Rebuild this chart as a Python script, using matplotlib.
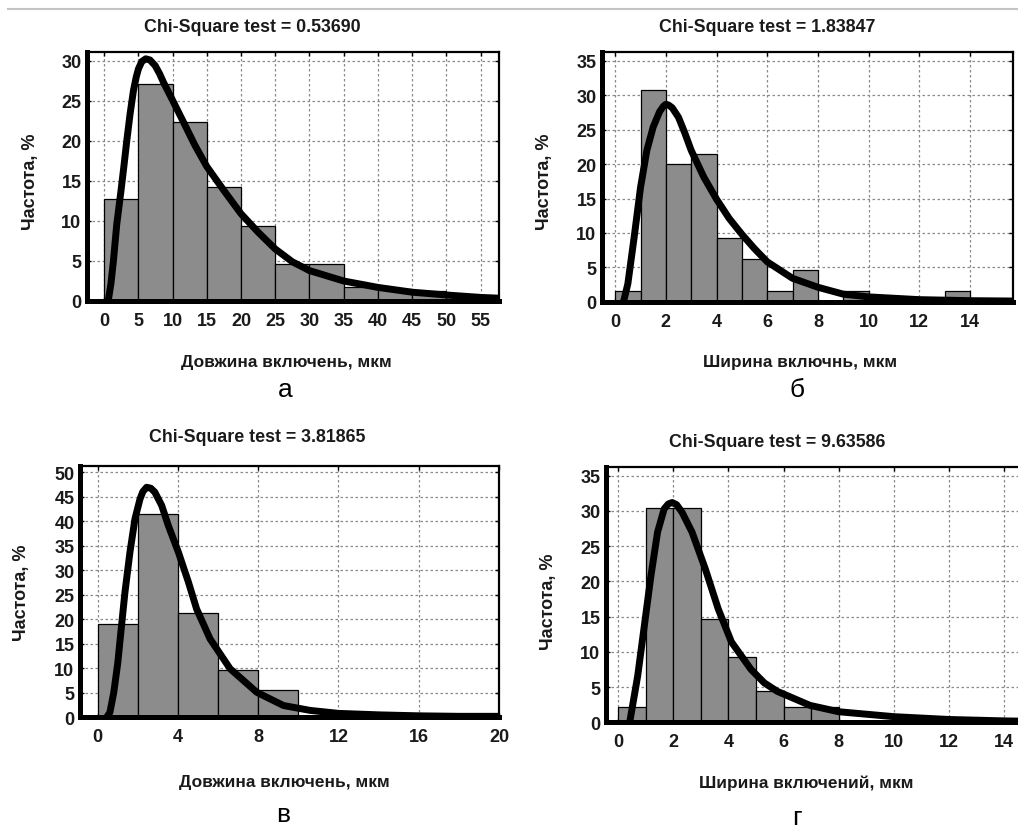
import matplotlib
matplotlib.use('Agg')
import matplotlib.pyplot as plt
from matplotlib.lines import Line2D

plt.rcParams['font.family'] = ['Liberation Sans', 'DejaVu Sans']

W, H = 1018, 829

# --- panel а: довжина включень ---
a_edges = [0, 5, 10, 15, 20, 25, 30, 35, 40, 45, 50]
a_freq = [12.7, 27.1, 22.3, 14.3, 9.4, 4.6, 4.6, 1.8, 1.5, 1.3, 0.6]
a_fit_x = [0.6, 1.0, 1.36, 1.85, 2.5, 2.9, 3.31, 3.8, 4.29, 4.7, 5.02, 5.5, 6.09, 6.7, 7.46,
           8.1, 8.68, 9.9, 11.36, 13.3, 15, 17.5, 20, 22.5, 25, 27.5, 30, 35, 40, 45, 50,
           55, 57.7]
a_fit_y = [0, 2.2, 5.0, 9.6, 14.0, 16.9, 20.0, 23.4, 26.3, 28.0, 29.0, 29.9, 30.25, 30.1,
           29.4, 28.4, 27.3, 25.25, 22.75, 19.4, 16.8, 13.8, 10.9, 8.6, 6.5, 4.9, 3.8, 2.5,
           1.7, 1.1, 0.75, 0.45, 0.35]

# --- panel б: ширина включень ---
b_edges = [0, 1, 2, 3, 4, 5, 6, 7, 8, 9, 10, 11, 12, 13]
b_freq = [1.5, 30.8, 20.0, 21.5, 9.2, 6.2, 1.5, 4.6, 0, 1.5, 0, 0, 0, 1.5]
b_fit_x = [0.33, 0.5, 0.75, 1.0, 1.25, 1.5, 1.75, 1.9, 2.0, 2.1, 2.25, 2.5, 2.75, 3.0, 3.5,
           4.0, 4.5, 5.0, 5.5, 6.0, 7.0, 8.0, 9.0, 10.0, 12.0, 14.0, 15.7]
b_fit_y = [0, 2.6, 9.4, 16.6, 22.0, 25.4, 27.6, 28.4, 28.7, 28.6, 28.2, 26.8, 24.5, 22.0,
           18.1, 14.9, 12.1, 9.8, 7.7, 5.8, 3.4, 2.1, 1.1, 0.7, 0.3, 0.15, 0.1]

# --- panel в: довжина включень ---
c_edges = [0, 2, 4, 6, 8]
c_freq = [19.1, 41.5, 21.2, 9.6, 5.6]
c_fit_x = [0.45, 0.61, 0.8, 1.0, 1.16, 1.36, 1.61, 1.86, 2.11, 2.25, 2.44, 2.65, 2.85,
           3.19, 3.52, 4.02, 4.52, 4.93, 5.6, 6.6, 7.93, 9.26, 10.6, 12, 14, 16, 18, 20]
c_fit_y = [0, 1.0, 5.0, 11.0, 17.5, 25.5, 33.7, 40.5, 44.5, 46.0, 46.9, 46.7, 45.9,
           43.2, 39.1, 33.7, 27.6, 22.1, 16.0, 9.9, 5.1, 2.4, 1.4, 0.8, 0.5, 0.3, 0.2, 0.2]

# --- panel г: ширина включень ---
d_edges = [0, 1, 2, 3, 4, 5, 6, 7]
d_freq = [2.2, 30.4, 30.4, 14.6, 9.3, 4.5, 2.2, 2.2]
d_fit_x = [0.42, 0.71, 0.95, 1.19, 1.43, 1.67, 1.82, 1.96, 2.12, 2.32, 2.68, 3.16, 3.63,
           4.11, 4.82, 5.3, 5.77, 6.96, 8.0, 10.0, 12.0, 14.0, 15.7]
d_fit_y = [0, 6.6, 13.7, 20.8, 27.0, 30.3, 31.0, 31.2, 30.9, 29.8, 27.0, 21.8, 16.1,
           11.4, 7.5, 5.6, 4.4, 2.4, 1.5, 0.8, 0.4, 0.2, 0.1]

panels = [
    dict(edges=a_edges, freq=a_freq, w=5, fx=a_fit_x, fy=a_fit_y,
         box=(87, 53, 499, 302), xlim=(-2.5, 57.7), ylim=(0, 31.1),
         xticks=range(0, 56, 5), yticks=range(0, 31, 5),
         title='Chi-Square test = 0.53690', xlabel='Довжина включень, мкм', letter='а',
         tpos=(252, 28), ylpos=(30, 182), xlpos=(286, 362), lpos=(285, 390)),
    dict(edges=b_edges, freq=b_freq, w=1, fx=b_fit_x, fy=b_fit_y,
         box=(602, 53, 1013, 302.7), xlim=(-0.52, 15.7), ylim=(0, 36.3),
         xticks=range(0, 15, 2), yticks=range(0, 36, 5),
         title='Chi-Square test = 1.83847', xlabel='Ширина включнь, мкм', letter='б',
         tpos=(767, 28), ylpos=(545, 182), xlpos=(800, 362), lpos=(797, 390)),
    dict(edges=c_edges, freq=c_freq, w=2, fx=c_fit_x, fy=c_fit_y,
         box=(80, 466.7, 499, 718.3), xlim=(-0.88, 20), ylim=(0, 51.3),
         xticks=range(0, 21, 4), yticks=range(0, 51, 5),
         title='Chi-Square test = 3.81865', xlabel='Довжина включень, мкм', letter='в',
         tpos=(257, 438), ylpos=(22, 593), xlpos=(284, 783), lpos=(283, 815)),
    dict(edges=d_edges, freq=d_freq, w=1, fx=d_fit_x, fy=d_fit_y,
         box=(606, 468.3, 1051, 723.3), xlim=(-0.44, 15.7), ylim=(0, 36.2),
         xticks=range(0, 15, 2), yticks=range(0, 36, 5),
         title='Chi-Square test = 9.63586', xlabel='Ширина включений, мкм', letter='г',
         tpos=(777, 443), ylpos=(548, 602), xlpos=(806, 783), lpos=(797, 818)),
]

fig = plt.figure(figsize=(W / 100, H / 100), dpi=100)

# faint line along the top edge of the scan
fig.add_artist(Line2D([8 / W, 1], [1 - 10 / H, 1 - 10 / H], color='#c4c4c4', lw=1.5))


def px(x, y):
    return x / W, 1 - y / H


for p in panels:
    x0, y0, x1, y1 = p['box']
    ax = fig.add_axes([x0 / W, 1 - y1 / H, (x1 - x0) / W, (y1 - y0) / H])
    ax.set_axisbelow(True)
    ax.bar(p['edges'], p['freq'], width=p['w'], align='edge', color='#8c8c8c',
           edgecolor='black', linewidth=0.9, zorder=2)
    ax.plot(p['fx'], p['fy'], color='black', lw=5, solid_capstyle='round',
            solid_joinstyle='round', zorder=3)
    ax.set_xlim(*p['xlim'])
    ax.set_ylim(*p['ylim'])
    ax.set_xticks(list(p['xticks']))
    ax.set_yticks(list(p['yticks']))
    ax.grid(True, color='#8a8a8a', linestyle=(0, (2, 2)), linewidth=0.9)
    ax.tick_params(direction='in', top=True, right=True, length=3, width=1,
                   labelsize=13, pad=4)
    ax.tick_params(axis='x', pad=8)
    for lab in ax.get_xticklabels() + ax.get_yticklabels():
        lab.set_fontweight('bold')
        lab.set_color('#1a1a1a')
    for side in ['left', 'bottom']:
        ax.spines[side].set_linewidth(3.6)
    for side in ['top', 'right']:
        ax.spines[side].set_linewidth(1.6)
    for s in ax.spines.values():
        s.set_zorder(4)

    fig.text(*px(*p['tpos']), p['title'], ha='center', va='center', fontsize=12.8,
             fontweight='bold', color='#1a1a1a')
    fig.text(*px(*p['ylpos']), 'Частота, %', ha='center', va='center', rotation=90,
             fontsize=13, fontweight='bold', color='#1a1a1a')
    fig.text(*px(*p['xlpos']), p['xlabel'], ha='center', va='center', fontsize=12.4,
             fontweight='bold', color='#1a1a1a')
    fig.text(*px(*p['lpos']), p['letter'], ha='center', va='center', fontsize=19,
             color='black')

fig.savefig('out.png', dpi=100)
